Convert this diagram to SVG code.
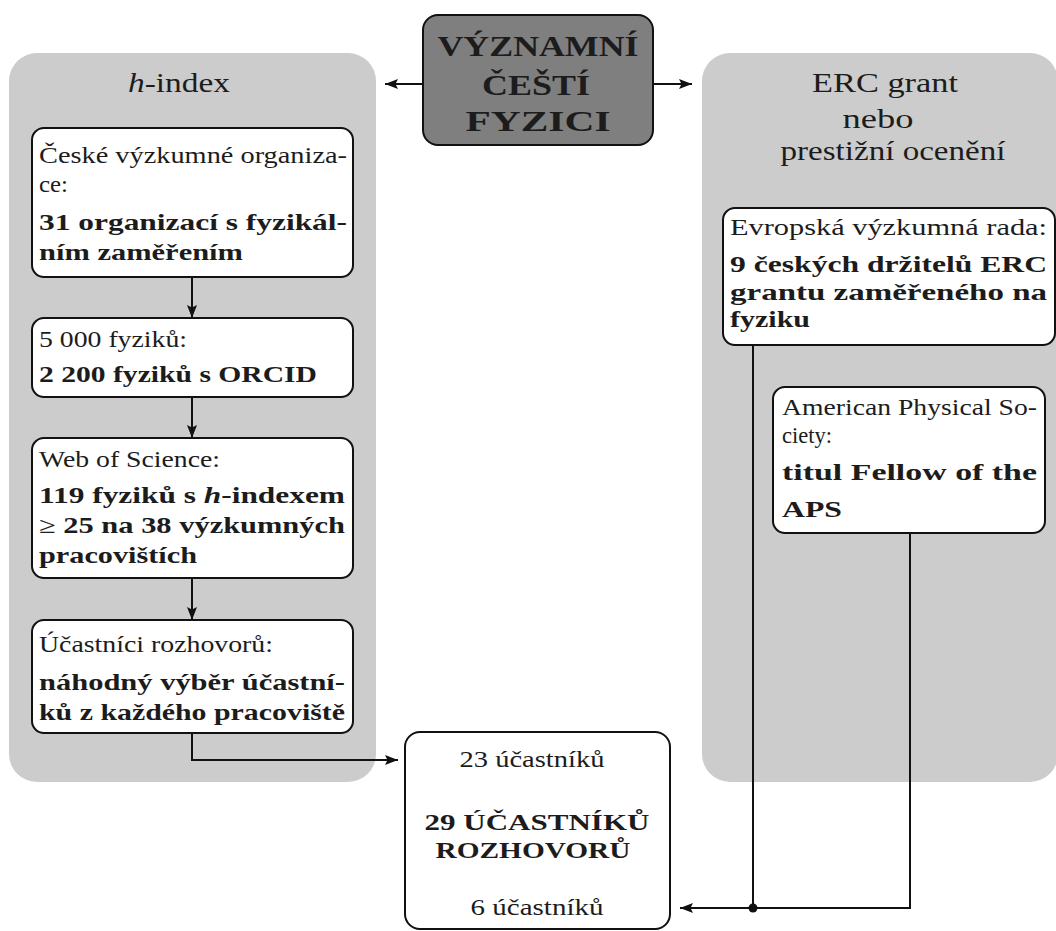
<svg xmlns="http://www.w3.org/2000/svg" width="1056" height="931" viewBox="0 0 1056 931">
<style>
text{font-family:"Liberation Serif","DejaVu Serif",serif;fill:#1c1c1c}
.t{font-size:27px}
.r{font-size:23px}
.b{font-size:23px;font-weight:bold}
.top{font-size:30px;font-weight:bold}
.big{font-size:24px;font-weight:bold}
.panel{fill:#cccccc;stroke:none}
.box{fill:#ffffff;stroke:#111;stroke-width:2}
.line{fill:none;stroke:#111;stroke-width:2}
</style>
<defs>
<marker id="ah" viewBox="0 0 13 10" refX="13" refY="5" markerWidth="13" markerHeight="10" orient="auto" markerUnits="userSpaceOnUse">
<path d="M0,0 L13,5 L0,10 L2.5,5 z" fill="#111"/>
</marker>
</defs>

<g id="panel-hindex">
<rect class="panel" x="9" y="53" width="367" height="729" rx="28"/>
<text class="t" x="179" y="92" text-anchor="middle" textLength="102" lengthAdjust="spacingAndGlyphs"><tspan font-style="italic">h</tspan>-index</text>
</g>
<g id="panel-erc">
<rect class="panel" x="702" y="53" width="356" height="729" rx="28"/>
<text class="t" x="885" y="92" text-anchor="middle" textLength="146" lengthAdjust="spacingAndGlyphs">ERC grant</text>
<text class="t" x="878" y="128" text-anchor="middle" textLength="71" lengthAdjust="spacingAndGlyphs">nebo</text>
<text class="t" x="893" y="160" text-anchor="middle" textLength="225" lengthAdjust="spacingAndGlyphs">prestižní ocenění</text>
</g>

<g id="connectors">
<line class="line" x1="423" y1="84" x2="385" y2="84" marker-end="url(#ah)"/>
<line class="line" x1="653" y1="84" x2="692" y2="84" marker-end="url(#ah)"/>
<line class="line" x1="192" y1="277" x2="192" y2="318" marker-end="url(#ah)"/>
<line class="line" x1="192" y1="397" x2="192" y2="438" marker-end="url(#ah)"/>
<line class="line" x1="192" y1="578" x2="192" y2="620" marker-end="url(#ah)"/>
<path class="line" d="M192,733 V760 H398" marker-end="url(#ah)"/>
<path class="line" d="M753,345 V908"/>
<path class="line" d="M910,533 V908 H680" marker-end="url(#ah)"/>
<circle cx="753" cy="908" r="4.5" fill="#111"/>
</g>

<g id="node-top">
<rect x="423" y="15" width="230" height="130" rx="15" fill="#7f7f7f" stroke="#111" stroke-width="2"/>
<text class="top" x="538" y="56" text-anchor="middle" textLength="201" lengthAdjust="spacingAndGlyphs">VÝZNAMNÍ</text>
<text class="top" x="536" y="95" text-anchor="middle" textLength="108" lengthAdjust="spacingAndGlyphs">ČEŠTÍ</text>
<text class="top" x="538" y="131" text-anchor="middle" textLength="145" lengthAdjust="spacingAndGlyphs">FYZICI</text>
</g>

<g id="node-organizace">
<rect class="box" x="32" y="128" width="321" height="149" rx="12"/>
<text class="r" x="39" y="163" textLength="308" lengthAdjust="spacingAndGlyphs">České výzkumné organiza-</text>
<text class="r" x="39" y="192" textLength="29" lengthAdjust="spacingAndGlyphs">ce:</text>
<text class="b" x="39" y="230" textLength="308" lengthAdjust="spacingAndGlyphs">31 organizací s fyzikál-</text>
<text class="b" x="39" y="260" textLength="204" lengthAdjust="spacingAndGlyphs">ním zaměřením</text>
</g>

<g id="node-fyzici">
<rect class="box" x="32" y="318" width="321" height="79" rx="12"/>
<text class="r" x="39" y="347" textLength="148" lengthAdjust="spacingAndGlyphs">5 000 fyziků:</text>
<text class="b" x="39" y="382" textLength="278" lengthAdjust="spacingAndGlyphs">2 200 fyziků s ORCID</text>
</g>

<g id="node-wos">
<rect class="box" x="32" y="438" width="321" height="140" rx="12"/>
<text class="r" x="39" y="467" textLength="181" lengthAdjust="spacingAndGlyphs">Web of Science:</text>
<text class="b" x="39" y="503" textLength="306" lengthAdjust="spacingAndGlyphs">119 fyziků s <tspan font-style="italic">h</tspan>-indexem</text>
<text class="b" x="39" y="533" textLength="306" lengthAdjust="spacingAndGlyphs"><tspan font-weight="normal">≥</tspan> 25 na 38 výzkumných</text>
<text class="b" x="39" y="563" textLength="158" lengthAdjust="spacingAndGlyphs">pracovištích</text>
</g>

<g id="node-ucastnici">
<rect class="box" x="32" y="620" width="321" height="113" rx="12"/>
<text class="r" x="39" y="652" textLength="234" lengthAdjust="spacingAndGlyphs">Účastníci rozhovorů:</text>
<text class="b" x="39" y="690" textLength="306" lengthAdjust="spacingAndGlyphs">náhodný výběr účastní-</text>
<text class="b" x="39" y="720" textLength="306" lengthAdjust="spacingAndGlyphs">ků z každého pracoviště</text>
</g>

<g id="node-erc">
<rect class="box" x="723" y="208" width="332" height="137" rx="12"/>
<text class="r" x="730" y="235" textLength="317" lengthAdjust="spacingAndGlyphs">Evropská výzkumná rada:</text>
<text class="b" x="730" y="272" textLength="317" lengthAdjust="spacingAndGlyphs">9 českých držitelů ERC</text>
<text class="b" x="730" y="300" textLength="317" lengthAdjust="spacingAndGlyphs">grantu zaměřeného na</text>
<text class="b" x="730" y="327" textLength="80" lengthAdjust="spacingAndGlyphs">fyziku</text>
</g>

<g id="node-aps">
<rect class="box" x="773" y="387" width="272" height="146" rx="12"/>
<text class="r" x="782" y="415" textLength="255" lengthAdjust="spacingAndGlyphs">American Physical So-</text>
<text class="r" x="782" y="443" textLength="50" lengthAdjust="spacingAndGlyphs">ciety:</text>
<text class="b" x="782" y="480" textLength="255" lengthAdjust="spacingAndGlyphs">titul Fellow of the</text>
<text class="b" x="782" y="517" textLength="60" lengthAdjust="spacingAndGlyphs">APS</text>
</g>

<g id="node-vysledek">
<rect class="box" x="405" y="732" width="265" height="197" rx="15"/>
<text class="r" x="532" y="767" text-anchor="middle" textLength="145" lengthAdjust="spacingAndGlyphs">23 účastníků</text>
<text class="big" x="537" y="830" text-anchor="middle" textLength="225" lengthAdjust="spacingAndGlyphs">29 ÚČASTNÍKŮ</text>
<text class="big" x="533" y="858" text-anchor="middle" textLength="195" lengthAdjust="spacingAndGlyphs">ROZHOVORŮ</text>
<text class="r" x="537" y="915" text-anchor="middle" textLength="133" lengthAdjust="spacingAndGlyphs">6 účastníků</text>
</g>
</svg>
